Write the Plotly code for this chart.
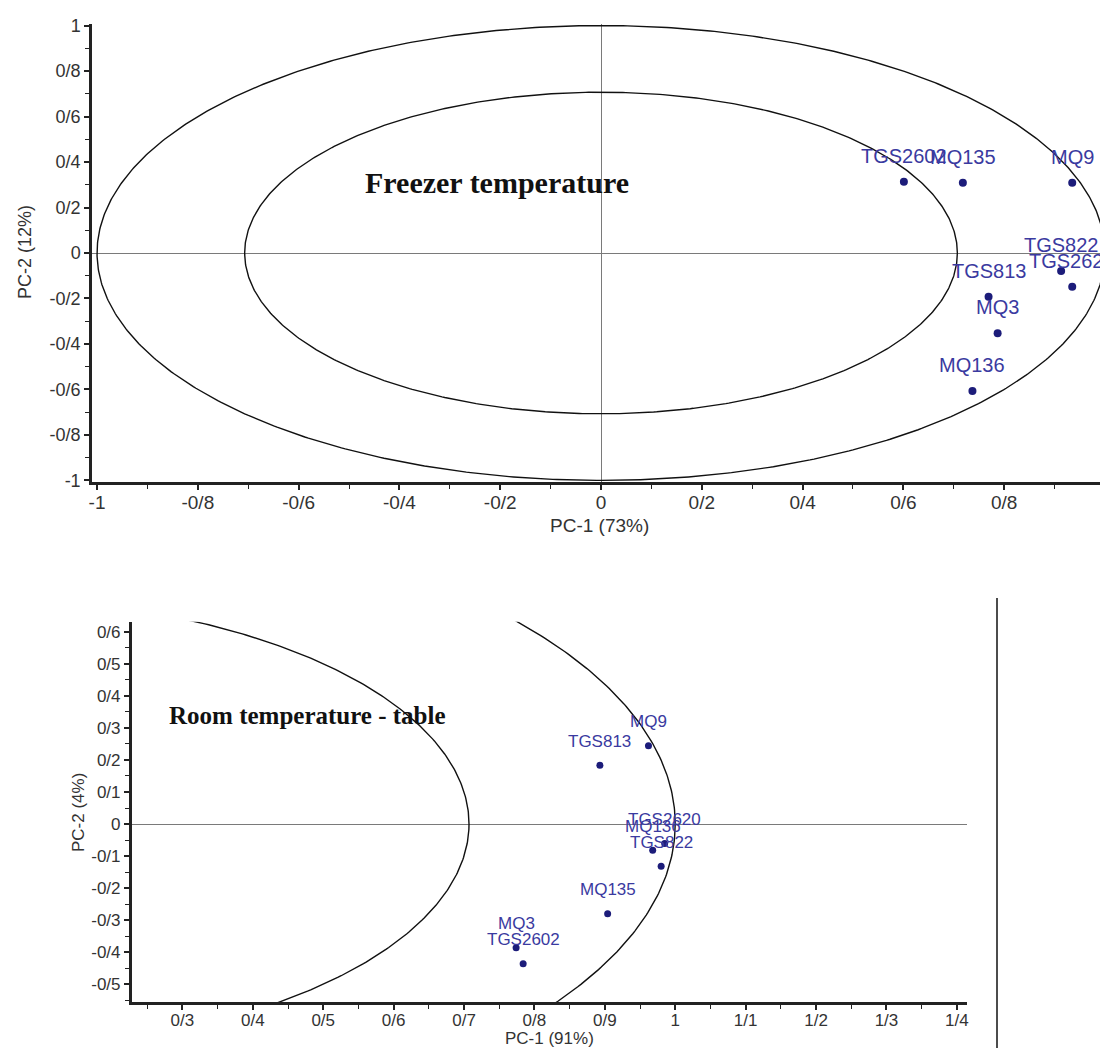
import numpy as np
import plotly.graph_objects as go

# ---------------- data ----------------
freezer_sensors = ["TGS2602", "MQ135", "MQ9", "TGS822", "TGS2620", "TGS813", "MQ3", "MQ136"]
freezer_pc1 = [0.601, 0.718, 0.935, 0.913, 0.935, 0.769, 0.787, 0.737]
freezer_pc2 = [0.313, 0.309, 0.309, -0.079, -0.148, -0.192, -0.353, -0.607]

room_sensors = ["MQ9", "TGS813", "TGS2620", "MQ136", "TGS822", "MQ135", "MQ3", "TGS2602"]
room_pc1 = [0.962, 0.893, 0.985, 0.968, 0.980, 0.904, 0.774, 0.784]
room_pc2 = [0.244, 0.183, -0.061, -0.082, -0.132, -0.280, -0.386, -0.436]

freezer_x_tickvals = [-1, -0.8, -0.6, -0.4, -0.2, 0, 0.2, 0.4, 0.6, 0.8, 1]
freezer_x_ticktext = ["-1", "-0/8", "-0/6", "-0/4", "-0/2", "0", "0/2", "0/4", "0/6", "0/8", "1"]
freezer_y_tickvals = [-1, -0.8, -0.6, -0.4, -0.2, 0, 0.2, 0.4, 0.6, 0.8, 1]
freezer_y_ticktext = ["-1", "-0/8", "-0/6", "-0/4", "-0/2", "0", "0/2", "0/4", "0/6", "0/8", "1"]

room_x_tickvals = [0.3, 0.4, 0.5, 0.6, 0.7, 0.8, 0.9, 1.0, 1.1, 1.2, 1.3, 1.4]
room_x_ticktext = ["0/3", "0/4", "0/5", "0/6", "0/7", "0/8", "0/9", "1", "1/1", "1/2", "1/3", "1/4"]
room_y_tickvals = [-0.5, -0.4, -0.3, -0.2, -0.1, 0, 0.1, 0.2, 0.3, 0.4, 0.5, 0.6]
room_y_ticktext = ["-0/5", "-0/4", "-0/3", "-0/2", "-0/1", "0", "0/1", "0/2", "0/3", "0/4", "0/5", "0/6"]

circle_radii = [0.7071, 1.0]

# ---------------- geometry (page pixels, compensated for 8px body margin) ----------------
PAGE_W, PAGE_H = 1108, 1048
OFF = 8
W, H = PAGE_W - OFF, PAGE_H - OFF


def px(p):
    return (p - OFF) / W


def py(p):
    return 1 - (p - OFF) / H


SANS = "Liberation Sans, Arial, sans-serif"
SERIF = "Liberation Serif, Times New Roman, serif"
AXIS_COLOR = "#222222"
DOT_COLOR = "#1c1c7a"
LABEL_COLOR = "#3a3aa0"

fig = go.Figure()

theta = np.linspace(0, 2 * np.pi, 721)
for xa, ya in [("x", "y"), ("x2", "y2")]:
    for r in circle_radii:
        fig.add_trace(go.Scatter(
            x=r * np.cos(theta), y=r * np.sin(theta), mode="lines",
            line=dict(color="#111111", width=1.4), xaxis=xa, yaxis=ya,
            showlegend=False, hoverinfo="skip"))

fig.add_trace(go.Scatter(
    x=freezer_pc1, y=freezer_pc2, mode="markers",
    marker=dict(color=DOT_COLOR, size=8), xaxis="x", yaxis="y",
    showlegend=False, cliponaxis=False))
fig.add_trace(go.Scatter(
    x=room_pc1, y=room_pc2, mode="markers",
    marker=dict(color=DOT_COLOR, size=7), xaxis="x2", yaxis="y2",
    showlegend=False, cliponaxis=False))

annotations = []
for name, xv, yv in zip(freezer_sensors, freezer_pc1, freezer_pc2):
    annotations.append(dict(x=xv, y=yv, xref="x", yref="y", text=name, showarrow=False,
                            xanchor="center", yanchor="middle",
                            yshift=26, font=dict(family=SANS, size=20, color=LABEL_COLOR)))
for name, xv, yv in zip(room_sensors, room_pc1, room_pc2):
    annotations.append(dict(x=xv, y=yv, xref="x2", yref="y2", text=name, showarrow=False,
                            xanchor="center", yanchor="middle",
                            yshift=24, font=dict(family=SANS, size=17, color=LABEL_COLOR)))

annotations.append(dict(x=-0.207, y=0.311, xref="x", yref="y", text="Freezer temperature",
                        showarrow=False, xanchor="center", yanchor="middle",
                        font=dict(family=SERIF, size=30, color="#111111", weight="bold")))
annotations.append(dict(x=0.477, y=0.34, xref="x2", yref="y2", text="Room temperature - table",
                        showarrow=False, xanchor="center", yanchor="middle",
                        font=dict(family=SERIF, size=25, color="#111111", weight="bold")))

# axis titles
annotations += [
    dict(x=px(599), y=py(525), xref="paper", yref="paper", text="PC-1 (73%)", showarrow=False,
         xanchor="center", yanchor="middle", font=dict(family=SANS, size=19, color="#333333")),
    dict(x=px(25), y=py(252), xref="paper", yref="paper", text="PC-2 (12%)", showarrow=False,
         xanchor="center", yanchor="middle", textangle=-90,
         font=dict(family=SANS, size=18, color="#333333")),
    dict(x=px(549), y=py(1038), xref="paper", yref="paper", text="PC-1 (91%)", showarrow=False,
         xanchor="center", yanchor="middle", font=dict(family=SANS, size=17, color="#333333")),
    dict(x=px(78), y=py(812), xref="paper", yref="paper", text="PC-2 (4%)", showarrow=False,
         xanchor="center", yanchor="middle", textangle=-90,
         font=dict(family=SANS, size=17, color="#333333")),
]


def axis_style(tickvals, ticktext, rng, domain, anchor, minor_dtick, fsize, standoff=0):
    return dict(
        domain=domain, range=rng, anchor=anchor, showline=True, linewidth=2.5,
        linecolor=AXIS_COLOR, mirror=False, showgrid=False, automargin=False,
        zeroline=True, zerolinecolor="#7a7a7a", zerolinewidth=1,
        ticks="outside", ticklen=5, tickwidth=1.6, tickcolor=AXIS_COLOR,
        tickmode="array", tickvals=tickvals, ticktext=ticktext,
        tickfont=dict(family=SANS, size=fsize, color="#333333"),
        ticklabeloverflow="allow", ticklabelstandoff=standoff,
        minor=dict(dtick=minor_dtick, tick0=0, ticks="outside", ticklen=4, tickwidth=1.4,
                   tickcolor=AXIS_COLOR, showgrid=False),
        fixedrange=True,
    )


fig.update_layout(
    template="none",
    width=W, height=H, margin=dict(l=0, r=0, t=0, b=0, pad=0, autoexpand=False),
    paper_bgcolor="white", plot_bgcolor="white", showlegend=False,
    xaxis=axis_style(freezer_x_tickvals, freezer_x_ticktext, [-1.01, 1.006],
                     [px(92), 1.0], "y", 0.1, 19, -4),
    yaxis=axis_style(freezer_y_tickvals, freezer_y_ticktext, [-1.007, 1.007],
                     [py(482), py(24)], "x", 0.1, 18),
    xaxis2=axis_style(room_x_tickvals, room_x_ticktext, [0.228, 1.414],
                      [px(131.7), px(966.7)], "y2", 0.05, 17, -4),
    yaxis2=axis_style(room_y_tickvals, room_y_ticktext, [-0.555, 0.631],
                      [py(1002), py(621.7)], "x2", 0.05, 17),
    annotations=annotations,
    shapes=[dict(type="line", xref="paper", yref="paper", x0=px(997), x1=px(997),
                 y0=0, y1=py(598), line=dict(color="#111111", width=1.5))],
)

fig.write_html("out.html")
